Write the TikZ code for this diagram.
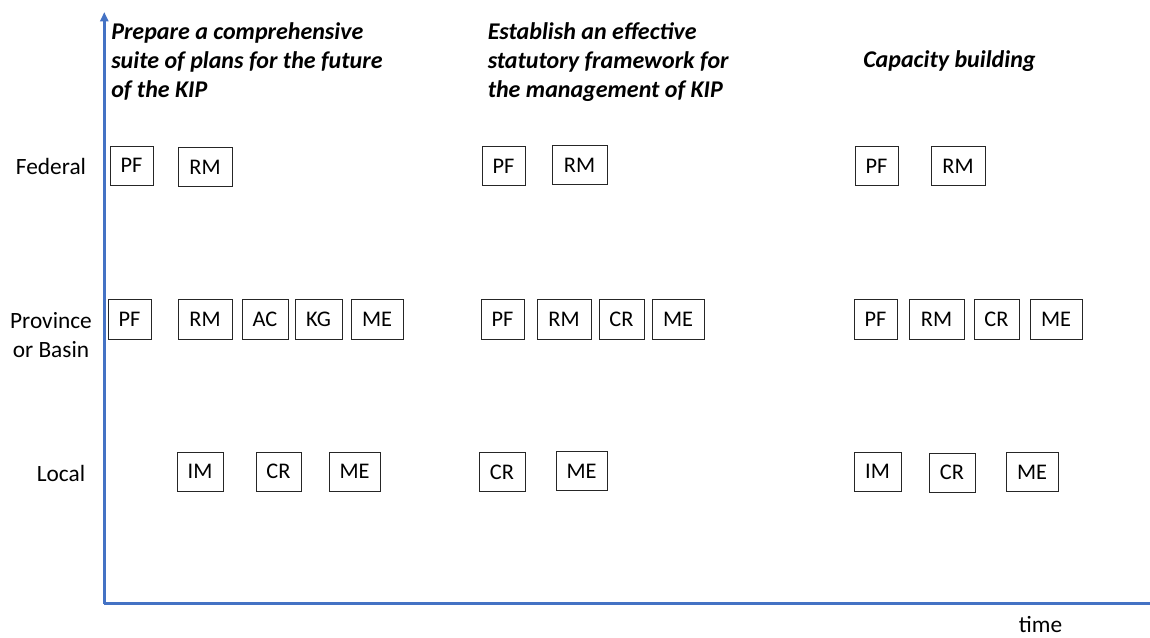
\documentclass[tikz,border=0pt]{standalone}
\usepackage{fontspec}
\setmainfont{Carlito}
\usetikzlibrary{arrows.meta}
\definecolor{axisblue}{HTML}{4472C4}
\begin{document}
\begin{tikzpicture}[x=0.75pt,y=-0.75pt,
  box/.style={draw=black!85, line width=0.65pt, inner sep=0pt, minimum height=29.25pt,
              font=\fontsize{16.75}{20}\selectfont},
  bw/.style={minimum width=#1},
  lvl/.style={anchor=base, inner sep=0pt, font=\fontsize{17.5}{21.75}\selectfont},
  head/.style={anchor=base west, inner sep=0pt, font=\fontsize{18}{21.75}\selectfont\bfseries\itshape},
  axis/.style={draw=axisblue, line width=2.3pt}]
\useasboundingbox (0,0) rectangle (1150,637);
% axes
\coordinate (origin) at (104.3,603.5);
\coordinate (ytop) at (104.3,12);
\coordinate (xend) at (1150,603.5);
\draw[axis, -{Triangle[length=7pt,width=6pt]}] (origin) -- (ytop);
\draw[axis] (origin) -- (xend);
% headings
\node[head] (h1) at (111,39.5) {\begin{tabular}[t]{@{}l@{}}Prepare a comprehensive\\suite of plans for the future\\of the KIP\end{tabular}};
\node[head] (h2) at (487.5,39.5) {\begin{tabular}[t]{@{}l@{}}Establish an effective\\statutory framework for\\the management of KIP\end{tabular}};
\node[head] (h3) at (863,67.5) {Capacity building};
% level labels
\node[lvl] (fed) at (51,174) {Federal};
\node[lvl] (prov) at (51,328) {\begin{tabular}[t]{@{}c@{}}Province\\or Basin\end{tabular}};
\node[lvl] (loc) at (61,481) {Local};
\node[lvl] (time) at (1040.5,632) {time};
% federal row
\node[box,bw=32.25pt] (F1PF) at (131.5,165.5) {PF};
\node[box,bw=40.5pt]  (F1RM) at (205,167) {RM};
\node[box,bw=32.25pt] (F2PF) at (503.5,166) {PF};
\node[box,bw=41.25pt] (F2RM) at (579.5,165) {RM};
\node[box,bw=32.25pt] (F3PF) at (876.5,166) {PF};
\node[box,bw=40.5pt]  (F3RM) at (958,166) {RM};
% province row
\node[box,bw=32.25pt,minimum height=30pt] (P1PF) at (129.5,319) {PF};
\node[box,bw=40.5pt,minimum height=30pt]  (P1RM) at (205,319) {RM};
\node[box,bw=34.5pt,minimum height=30pt]  (P1AC) at (265,319) {AC};
\node[box,bw=35.25pt,minimum height=30pt] (P1KG) at (318.5,319) {KG};
\node[box,bw=39pt,minimum height=30pt]    (P1ME) at (377,319) {ME};
\node[box,bw=32.25pt,minimum height=30pt] (P2PF) at (502.5,319) {PF};
\node[box,bw=40.5pt,minimum height=30pt]  (P2RM) at (564,319) {RM};
\node[box,bw=33.75pt,minimum height=30pt] (P2CR) at (621.5,319) {CR};
\node[box,bw=39pt,minimum height=30pt]    (P2ME) at (678,319) {ME};
\node[box,bw=32.25pt,minimum height=30pt] (P3PF) at (875.5,319) {PF};
\node[box,bw=41.25pt,minimum height=30pt] (P3RM) at (936.5,319) {RM};
\node[box,bw=33.75pt,minimum height=30pt] (P3CR) at (996.5,319) {CR};
\node[box,bw=39pt,minimum height=30pt]    (P3ME) at (1056,319) {ME};
% local row
\node[box,bw=34.5pt]  (L1IM) at (200,471.5) {IM};
\node[box,bw=33.75pt] (L1CR) at (278.5,471.5) {CR};
\node[box,bw=38.25pt] (L1ME) at (354.5,471.5) {ME};
\node[box,bw=34.5pt]  (L2CR) at (502,472) {CR};
\node[box,bw=38.25pt] (L2ME) at (581.5,471) {ME};
\node[box,bw=35.25pt] (L3IM) at (877.5,471.5) {IM};
\node[box,bw=34.5pt]  (L3CR) at (952,472.5) {CR};
\node[box,bw=39pt]    (L3ME) at (1032,472) {ME};
\end{tikzpicture}
\end{document}
